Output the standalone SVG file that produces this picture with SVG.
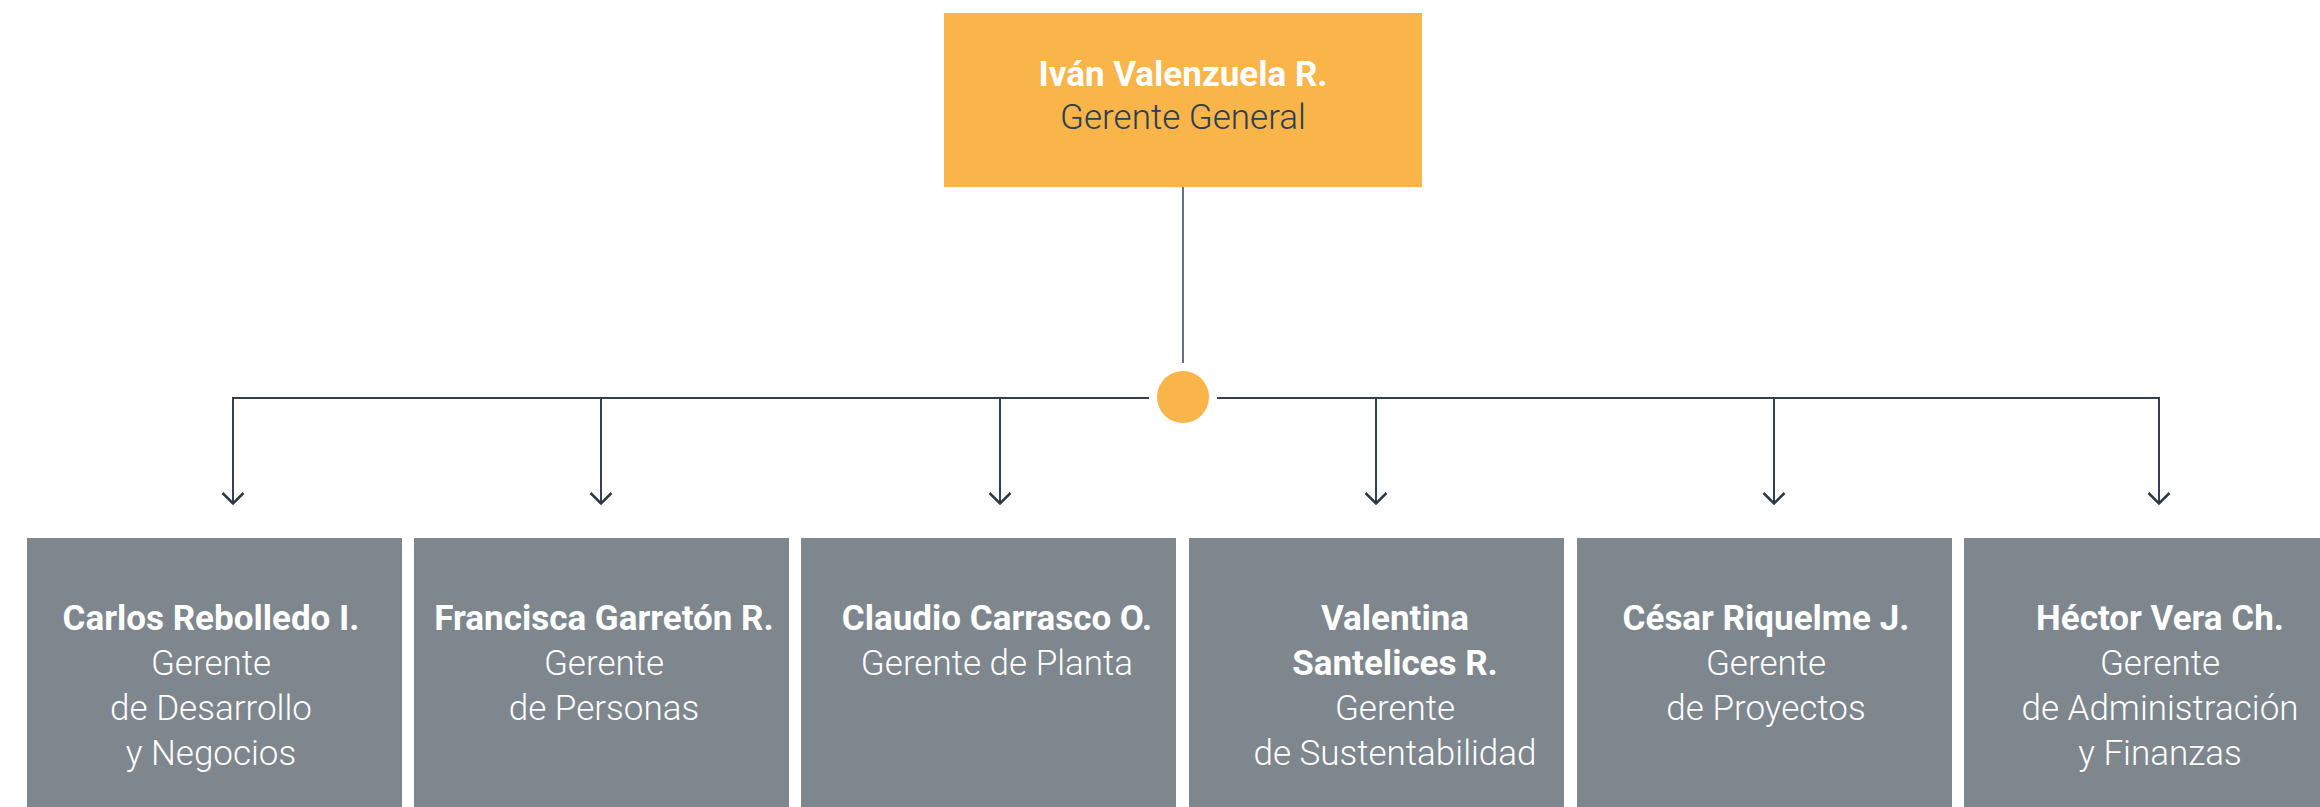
<svg xmlns="http://www.w3.org/2000/svg" width="2320" height="807" viewBox="0 0 2320 807">
<defs>
<style>
.top{fill:#f9b54a}
.box{fill:#7e868e}
.name{font-family:Roboto,"Liberation Sans",sans-serif;font-weight:700;font-size:35px;fill:#ffffff;text-anchor:middle}
.role{font-family:Roboto,"Liberation Sans",sans-serif;font-weight:300;font-size:35px;fill:#ffffff;text-anchor:middle}
.tname{font-family:Roboto,"Liberation Sans",sans-serif;font-weight:700;font-size:35px;fill:#ffffff;text-anchor:middle}
.trole{font-family:Roboto,"Liberation Sans",sans-serif;font-weight:300;font-size:35px;fill:#2c3e50;text-anchor:middle}
.ln{fill:none;stroke:#33414e;stroke-width:2}
.arr{fill:none;stroke:#2c3a47;stroke-width:2.5}
</style>
</defs>
<rect width="2320" height="807" fill="#ffffff"/>
<g id="connectors">
<line x1="1183" y1="187" x2="1183" y2="363" stroke="#66707a" stroke-width="2"/>
<polyline class="ln" points="1149,398 233,398 233,503"/>
<polyline class="ln" points="1217,398 2159,398 2159,503"/>
<line class="ln" x1="601" y1="398" x2="601" y2="503"/>
<line class="ln" x1="1000" y1="398" x2="1000" y2="503"/>
<line class="ln" x1="1376" y1="398" x2="1376" y2="503"/>
<line class="ln" x1="1774" y1="398" x2="1774" y2="503"/>
<polyline class="arr" points="222.5,493 233,503.5 243.5,493"/>
<polyline class="arr" points="590.5,493 601,503.5 611.5,493"/>
<polyline class="arr" points="989.5,493 1000,503.5 1010.5,493"/>
<polyline class="arr" points="1365.5,493 1376,503.5 1386.5,493"/>
<polyline class="arr" points="1763.5,493 1774,503.5 1784.5,493"/>
<polyline class="arr" points="2148.5,493 2159,503.5 2169.5,493"/>
<circle cx="1183" cy="397" r="26" fill="#f9b54a"/>
</g>
<g id="n0">
<rect class="top" x="944" y="13" width="478" height="174"/>
<text class="tname" x="1183" y="86">Iván Valenzuela R.</text>
<text class="trole" x="1183" y="129">Gerente General</text>
</g>
<g id="n1">
<rect class="box" x="27" y="538" width="375" height="269"/>
<text class="name" x="211" y="630">Carlos Rebolledo I.</text>
<text class="role" x="211" y="675">Gerente</text>
<text class="role" x="211" y="720">de Desarrollo</text>
<text class="role" x="211" y="765">y Negocios</text>
</g>
<g id="n2">
<rect class="box" x="414" y="538" width="375" height="269"/>
<text class="name" x="604" y="630">Francisca Garretón R.</text>
<text class="role" x="604" y="675">Gerente</text>
<text class="role" x="604" y="720">de Personas</text>
</g>
<g id="n3">
<rect class="box" x="801" y="538" width="375" height="269"/>
<text class="name" x="997" y="630">Claudio Carrasco O.</text>
<text class="role" x="997" y="675">Gerente de Planta</text>
</g>
<g id="n4">
<rect class="box" x="1189" y="538" width="375" height="269"/>
<text class="name" x="1395" y="630">Valentina</text>
<text class="name" x="1395" y="675">Santelices R.</text>
<text class="role" x="1395" y="720">Gerente</text>
<text class="role" x="1395" y="765">de Sustentabilidad</text>
</g>
<g id="n5">
<rect class="box" x="1577" y="538" width="375" height="269"/>
<text class="name" x="1766" y="630">César Riquelme J.</text>
<text class="role" x="1766" y="675">Gerente</text>
<text class="role" x="1766" y="720">de Proyectos</text>
</g>
<g id="n6">
<rect class="box" x="1964" y="538" width="375" height="269"/>
<text class="name" x="2160" y="630">Héctor Vera Ch.</text>
<text class="role" x="2160" y="675">Gerente</text>
<text class="role" x="2160" y="720">de Administración</text>
<text class="role" x="2160" y="765">y Finanzas</text>
</g>
</svg>
